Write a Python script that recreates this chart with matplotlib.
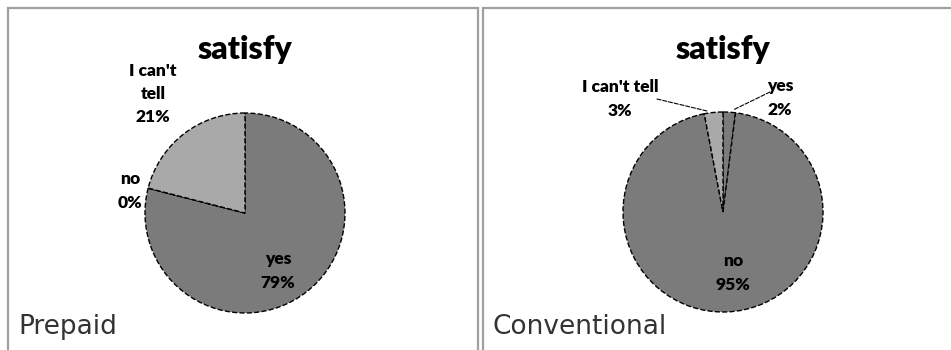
import matplotlib.pyplot as plt
from matplotlib.patches import Rectangle

# survey answers, in percent
categories = ["yes", "no", "I can't tell"]
prepaid = [79, 0, 21]
conventional = [2, 95, 3]
prepaid_labels = ["yes", "no", "I can't\ntell"]
conventional_labels = ["yes", "no", "I can't tell"]

W, H = 951, 350
fig = plt.figure(figsize=(W / 100, H / 100), dpi=100)
fig.patch.set_facecolor("white")

dark = "#7b7b7b"
light = "#a9a9a9"
colors = [dark, dark, light]


def px_box(x0, y0, x1, y1):
    # pixel box (top-left origin) -> figure fraction rect
    return [x0 / W, 1 - y1 / H, (x1 - x0) / W, (y1 - y0) / H]


# panel frames
for x0, x1 in [(8, 478), (483, 960)]:
    fig.add_artist(Rectangle((x0 / W, -0.1), (x1 - x0) / W, 1.1 - 8 / H,
                             transform=fig.transFigure, fill=False,
                             edgecolor="#a0a0a0", linewidth=1.6))


def draw_pie(cx, cy, values, labels, label_pos, leaders):
    ax = fig.add_axes(px_box(cx - 100, cy - 100, cx + 100, cy + 100))
    ax.pie(values, colors=colors, startangle=90, counterclock=False,
           wedgeprops=dict(edgecolor="black", linewidth=1.0, linestyle="--"))
    ax.set_xlim(-1, 1)
    ax.set_ylim(-1, 1)
    ax.axis("off")
    ax.text(0, 1.63, "satisfy", ha="center", va="center", fontsize=23,
            fontweight="heavy", family="Lato")
    for lab, v, (x, y) in zip(labels, values, label_pos):
        ax.text(x, y, f"{lab}\n{v}%", ha="center", va="center", fontsize=12.5,
                fontweight="heavy", family="Lato", linespacing=1.55)
    for (x0, y0), (x1, y1) in leaders:
        ax.annotate("", xy=(x1, y1), xytext=(x0, y0), annotation_clip=False,
                    arrowprops=dict(arrowstyle="-", color="black", lw=0.8,
                                    linestyle="--", shrinkA=0, shrinkB=0))
    return ax


draw_pie(245, 213, prepaid, prepaid_labels,
         [(0.33, -0.58), (-1.15, 0.22), (-0.92, 1.19)], [])
draw_pie(723, 212, conventional, conventional_labels,
         [(0.57, 1.14), (0.10, -0.61), (-1.03, 1.13)],
         [((0.47, 1.20), (0.10, 1.02)), ((-0.66, 1.13), (-0.16, 1.01))])

fig.text(18 / W, 1 - 327 / H, "Prepaid", fontsize=19, color="#333333",
         va="center", ha="left")
fig.text(492 / W, 1 - 327 / H, "Conventional", fontsize=19, color="#333333",
         va="center", ha="left")

fig.savefig("out.png", dpi=100)
